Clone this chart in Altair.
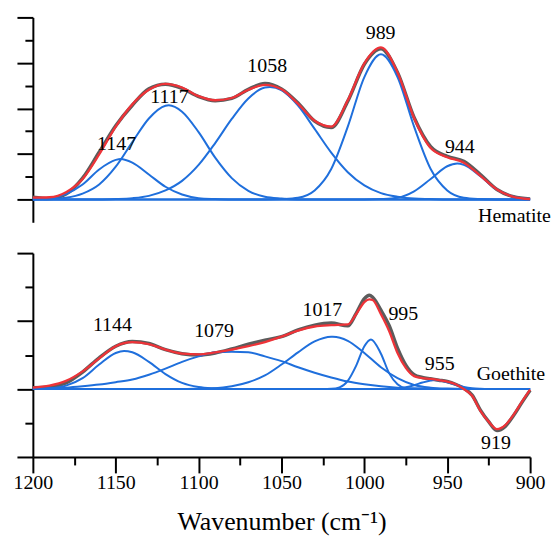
import altair as alt
import pandas as pd

# ---------------- data ----------------
# Hematite panel: measured spectrum and fitted sum, sampled every 10 cm-1
top_w = [1200, 1190, 1180, 1170, 1160, 1150, 1140, 1130, 1120, 1110, 1100, 1090, 1080,
         1070, 1060, 1050, 1040, 1030, 1020, 1010, 1000, 990, 980, 970, 960, 950, 940,
         930, 920, 910, 900]
top_fit = [0.04, 0.05, 0.16, 0.45, 0.99, 1.60, 2.09, 2.41, 2.54, 2.46, 2.27, 2.18, 2.23,
           2.41, 2.52, 2.42, 2.10, 1.73, 1.60, 2.18, 2.99, 3.34, 2.79, 1.79, 1.13, 0.93, 0.81,
           0.52, 0.22, 0.06, 0.01]
top_meas = [0.05, 0.02, 0.12, 0.47, 1.04, 1.62, 2.07, 2.43, 2.53, 2.44, 2.26, 2.17, 2.22,
            2.42, 2.55, 2.43, 2.12, 1.72, 1.58, 2.16, 2.97, 3.31, 2.79, 1.80, 1.16, 0.95, 0.84,
            0.55, 0.22, 0.06, 0.01]

# Hematite component bands
h1147_w = [1200, 1190, 1180, 1170, 1160, 1150, 1147, 1140, 1130, 1120, 1110, 1100, 1090, 1080, 900]
h1147_v = [0.01, 0.03, 0.12, 0.33, 0.66, 0.87, 0.89, 0.81, 0.55, 0.28, 0.11, 0.03, 0.01, 0, 0]
h1117_w = [1200, 1190, 1180, 1170, 1160, 1150, 1140, 1130, 1120, 1118, 1110, 1100, 1090, 1080,
           1070, 1060, 1050, 1040, 900]
h1117_v = [0, 0.01, 0.04, 0.13, 0.33, 0.72, 1.26, 1.78, 2.06, 2.07, 1.93, 1.48, 0.92, 0.47,
           0.19, 0.06, 0.02, 0, 0]
h1058_w = [1200, 1160, 1150, 1140, 1130, 1120, 1110, 1100, 1090, 1080, 1070, 1060, 1057, 1050,
           1040, 1030, 1020, 1010, 1000, 990, 980, 970, 960, 950, 900]
h1058_v = [0, 0, 0.01, 0.03, 0.08, 0.20, 0.41, 0.76, 1.24, 1.77, 2.22, 2.46, 2.47, 2.40,
           2.06, 1.55, 1.03, 0.60, 0.31, 0.14, 0.06, 0.02, 0.01, 0, 0]
h989_w = [1200, 1060, 1050, 1040, 1030, 1020, 1010, 1000, 990, 980, 970, 960, 950, 940, 930, 920, 900]
h989_v = [0, 0, 0.01, 0.04, 0.20, 0.67, 1.60, 2.69, 3.19, 2.69, 1.60, 0.67, 0.20, 0.04, 0.01, 0, 0]
h944_w = [1200, 1000, 990, 980, 970, 960, 950, 944, 940, 930, 920, 910, 900]
h944_v = [0, 0, 0.01, 0.04, 0.18, 0.45, 0.73, 0.79, 0.76, 0.51, 0.22, 0.06, 0.01]

# Goethite panel
bot_w = [1200, 1190, 1180, 1170, 1160, 1150, 1140, 1130, 1120, 1110, 1100, 1090, 1080, 1070,
         1060, 1050, 1040, 1030, 1020, 1010, 1005, 1000, 997, 995, 990, 985, 980, 975, 970,
         965, 960, 955, 950, 945, 940, 935, 930, 925, 920, 915, 910, 905, 900]
bot_fit = [0.02, 0.05, 0.12, 0.26, 0.45, 0.63, 0.69, 0.66, 0.58, 0.52, 0.51, 0.54, 0.58, 0.63,
           0.69, 0.77, 0.86, 0.92, 0.94, 0.95, 1.10, 1.28, 1.32, 1.31, 1.10, 0.85, 0.53, 0.31, 0.19,
           0.16, 0.15, 0.13, 0.11, 0.07, 0.0, -0.10, -0.32, -0.48, -0.59, -0.53, -0.38, -0.19, -0.01]
bot_meas = [0.02, 0.03, 0.09, 0.25, 0.46, 0.63, 0.70, 0.67, 0.58, 0.52, 0.50, 0.53, 0.59, 0.66,
            0.72, 0.77, 0.87, 0.94, 0.97, 0.93, 1.11, 1.33, 1.38, 1.35, 1.16, 0.93, 0.60, 0.35, 0.21,
            0.17, 0.15, 0.13, 0.11, 0.07, 0.01, -0.09, -0.31, -0.48, -0.61, -0.55, -0.39, -0.20, -0.02]

g1144_w = [1200, 1190, 1180, 1170, 1160, 1150, 1145, 1140, 1130, 1120, 1110, 1100, 1090, 1080, 900]
g1144_v = [0, 0.01, 0.05, 0.16, 0.36, 0.53, 0.56, 0.54, 0.40, 0.22, 0.09, 0.03, 0.01, 0, 0]
g1079_w = [1200, 1190, 1180, 1170, 1160, 1150, 1140, 1130, 1120, 1110, 1100, 1090, 1080, 1070,
           1060, 1050, 1040, 1030, 1020, 1010, 1000, 990, 980, 970, 960, 950, 900]
g1079_v = [0.005, 0.01, 0.02, 0.04, 0.065, 0.10, 0.14, 0.21, 0.30, 0.40, 0.48, 0.54, 0.55, 0.54,
           0.48, 0.41, 0.32, 0.24, 0.17, 0.11, 0.07, 0.04, 0.02, 0.01, 0.005, 0, 0]
g1017_w = [1200, 1110, 1100, 1090, 1080, 1070, 1060, 1050, 1040, 1030, 1020, 1019, 1010, 1000,
           990, 980, 970, 960, 950, 940, 900]
g1017_v = [0, 0, 0.004, 0.01, 0.04, 0.10, 0.20, 0.36, 0.54, 0.70, 0.77, 0.77, 0.71, 0.53,
           0.32, 0.16, 0.06, 0.02, 0.006, 0, 0]
g995_w = [1200, 1025, 1020, 1015, 1010, 1005, 1000, 996, 990, 985, 980, 975, 970, 900]
g995_v = [0, 0, 0.003, 0.025, 0.12, 0.34, 0.63, 0.73, 0.52, 0.23, 0.07, 0.01, 0, 0]
g955_w = [1200, 990, 985, 980, 975, 970, 965, 960, 958, 955, 950, 945, 940, 935, 930, 925, 900]
g955_v = [0, 0, 0.003, 0.009, 0.026, 0.056, 0.095, 0.125, 0.131, 0.128, 0.10, 0.064, 0.031,
          0.011, 0.003, 0, 0]

# peak labels
top_lab = ["1147", "1117", "1058", "989", "944"]
top_lab_w = [1149.5, 1117.6, 1058.6, 990.2, 942.4]
top_lab_v = [1.22, 2.26, 2.93, 3.65, 1.16]
bot_lab = ["1144", "1079", "1017", "995", "955", "919"]
bot_lab_w = [1152, 1090.7, 1025.3, 976.5, 954.5, 920.6]
bot_lab_v = [0.94, 0.855, 1.16, 1.10, 0.365, -0.80]
names = ["Hematite", "Goethite"]
names_w = [931.4, 932.2]
names_v = [-0.37, 0.22]

# ---------------- build tables ----------------
def rows(kind, series, ws, vs):
    return [{"kind": kind, "series": series, "w": a, "v": b} for a, b in zip(ws, vs)]

top_rows = (rows("meas", "meas", top_w, top_meas) + rows("fit", "fit", top_w, top_fit)
            + rows("comp", "1147", h1147_w, h1147_v) + rows("comp", "1117", h1117_w, h1117_v)
            + rows("comp", "1058", h1058_w, h1058_v) + rows("comp", "989", h989_w, h989_v)
            + rows("comp", "944", h944_w, h944_v))
bot_rows = (rows("meas", "meas", bot_w, bot_meas) + rows("fit", "fit", bot_w, bot_fit)
            + rows("comp", "1144", g1144_w, g1144_v) + rows("comp", "1079", g1079_w, g1079_v)
            + rows("comp", "1017", g1017_w, g1017_v) + rows("comp", "995", g995_w, g995_v)
            + rows("comp", "955", g955_w, g955_v))
top_df = pd.DataFrame(top_rows)
bot_df = pd.DataFrame(bot_rows)
top_lab_df = pd.DataFrame({"t": top_lab, "w": top_lab_w, "v": top_lab_v})
bot_lab_df = pd.DataFrame({"t": bot_lab, "w": bot_lab_w, "v": bot_lab_v})
top_name_df = pd.DataFrame({"t": [names[0]], "w": [names_w[0]], "v": [names_v[0]]})
bot_name_df = pd.DataFrame({"t": [names[1]], "w": [names_w[1]], "v": [names_v[1]]})

GRAY = "#5c5c5c"
RED = "#ee3338"
BLUE = "#1f6fdc"
FONT = "Liberation Serif"

x_scale = alt.Scale(domain=[900, 1200], reverse=True, nice=False, zero=False)

x_axis_bottom = alt.Axis(
    values=list(range(900, 1201, 25)), format="d",
    labelExpr="datum.value % 50 === 0 ? datum.label : ''",
    tickSize={"condition": {"test": "datum.value % 50 === 0", "value": 16}, "value": 8},
    tickColor="black", tickWidth=2, domainColor="black", domainWidth=2,
    labelFont=FONT, labelFontSize=20, labelColor="black", labelPadding=0,
    labelFlush=False, labelOverlap=False, grid=False,
    titleFont=FONT, titleFontSize=26, titleFontWeight="normal", titleColor="black",
    titlePadding=16,
)


def y_axis(vals):
    return alt.Axis(
        values=vals, labels=False, grid=False,
        tickSize={"condition": {"test": "datum.value % 1 === 0", "value": 16}, "value": 8},
        tickColor="black", tickWidth=2, domainColor="black", domainWidth=2,
    )


def panel(df, lab_df, name_df, ydom, yvals, xaxis, xtitle, h):
    X = alt.X("w:Q", scale=x_scale, axis=xaxis, title=xtitle)
    Y = alt.Y("v:Q", scale=alt.Scale(domain=ydom, nice=False, zero=False), axis=y_axis(yvals), title=None)
    base = alt.Chart(df)
    meas = base.transform_filter(alt.datum.kind == "meas").mark_line(
        color=GRAY, strokeWidth=3.5, interpolate="monotone").encode(x=X, y=Y)
    comps = base.transform_filter(alt.datum.kind == "comp").mark_line(
        color=BLUE, strokeWidth=2, interpolate="monotone").encode(x=X, y=Y, detail="series:N")
    fit = base.transform_filter(alt.datum.kind == "fit").mark_line(
        color=RED, strokeWidth=2.3, interpolate="monotone").encode(x=X, y=Y)
    labs = alt.Chart(lab_df).mark_text(font=FONT, fontSize=20, color="black",
                                       align="center", baseline="middle").encode(x=X, y=Y, text="t:N")
    nm = alt.Chart(name_df).mark_text(font=FONT, fontSize=20, color="black",
                                      align="left", baseline="middle").encode(x=X, y=Y, text="t:N")
    return alt.layer(meas, comps, fit, labs, nm).properties(width=500, height=h)


top = panel(top_df, top_lab_df, top_name_df, [-0.5, 4], [0, 0.5, 1, 1.5, 2, 2.5, 3, 3.5, 4],
            None, None, 206)
bottom = panel(bot_df, bot_lab_df, bot_name_df, [-1, 2], [-1, -0.5, 0, 0.5, 1, 1.5, 2],
               x_axis_bottom, "Wavenumber (cm⁻¹)", 205)

chart = alt.vconcat(top, bottom, spacing=25).properties(
    padding={"left": 5, "top": 7, "right": 0, "bottom": 0}
).configure_view(stroke=None)

chart.save("out.html", embed_options={"renderer": "svg", "actions": False})
